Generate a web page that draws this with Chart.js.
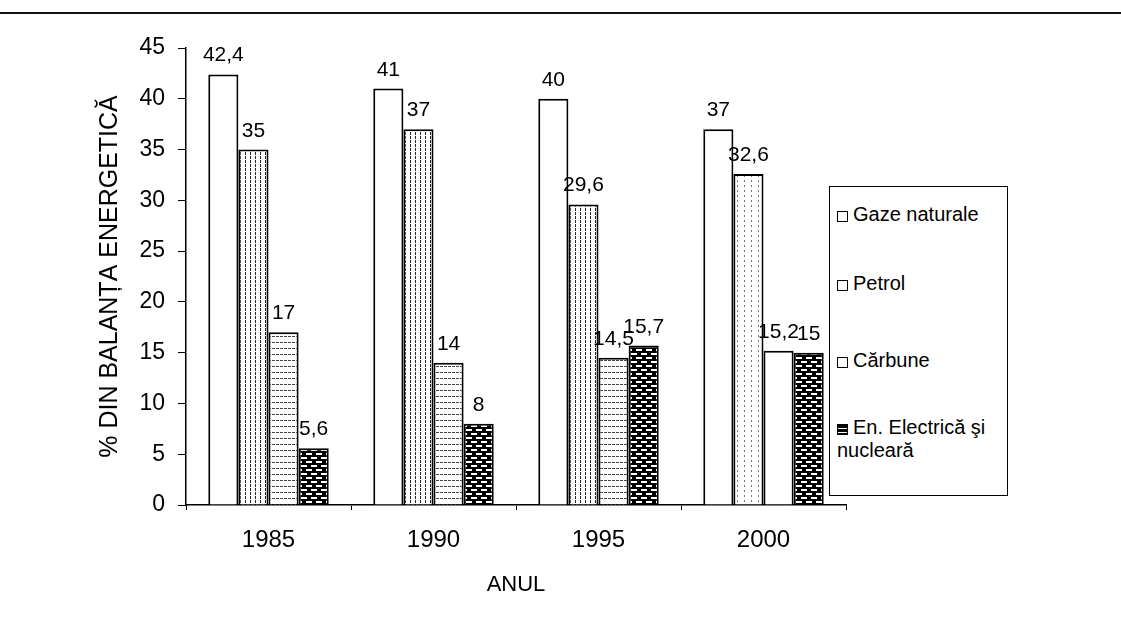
<!DOCTYPE html>
<html>
<head>
<meta charset="utf-8">
<script src="https://cdn.jsdelivr.net/npm/chart.js@4/dist/chart.umd.min.js"></script>
<style>
  body { margin: 0; background: #fff; }
  #wrap { position: relative; width: 1121px; height: 637px; font-family: "Liberation Sans", Arial, sans-serif; }
  #topline { position: absolute; left: 0; top: 12px; width: 1121px; height: 2px; background: #111; }
  #legend { position: absolute; left: 829px; top: 186px; width: 179px; height: 310px; border: 1.5px solid #000; background: #fff; box-sizing: border-box; }
  .item { position: absolute; left: 7px; font-size: 20px; color: #000; line-height: 23px; white-space: nowrap; }
  .sw { display: inline-block; width: 11px; height: 11px; border: 1.5px solid #000; margin-right: 5px; vertical-align: -1px; box-sizing: border-box; }
</style>
</head>
<body>
<div id="wrap">
  <canvas id="energyChart" width="1121" height="637"></canvas>
  <div id="topline"></div>
  <div id="legend"></div>
</div>
<script>
const years = ['1985', '1990', '1995', '2000'];
const seriesNames = ['Gaze naturale', 'Petrol', 'Cărbune', 'En. Electrică şi nucleară'];
const gazeNaturale = [42.4, 41, 40, 37];
const petrol = [35, 37, 29.6, 32.6];
const carbune = [17, 14, 14.5, 15.2];
const enElectrica = [5.6, 8, 15.7, 15];

// little pattern tiles for the bar fills
function makePattern(w, h, draw) {
    const c = document.createElement('canvas');
    c.width = w; c.height = h;
    const g = c.getContext('2d');
    g.fillStyle = '#fff';
    g.fillRect(0, 0, w, h);
    draw(g);
    return document.getElementById('energyChart').getContext('2d').createPattern(c, 'repeat');
}
const vertLines = makePattern(5, 4, g => { g.fillStyle = '#222'; g.fillRect(0, 0, 1, 3); });
const horizLines = makePattern(4, 6, g => { g.fillStyle = '#444'; g.fillRect(0, 0, 3, 1); });
const dots = makePattern(7, 5, g => { g.fillStyle = '#777'; g.fillRect(2, 0, 1, 2); });
const bricks = makePattern(10, 8, g => {
    g.fillStyle = '#000'; g.fillRect(0, 0, 10, 8);
    g.fillStyle = '#fff';
    g.fillRect(1, 1, 6, 2);
    g.fillRect(6, 5, 6, 2); g.fillRect(0, 5, 2, 2);
});

const fills = [
    ['#fff', '#fff', '#fff', '#fff'],
    [vertLines, vertLines, vertLines, dots],
    [horizLines, horizLines, horizLines, '#fff'],
    [bricks, bricks, bricks, bricks]
];
const values = [gazeNaturale, petrol, carbune, enElectrica];

// value labels above each bar, with comma decimals
const valueLabels = {
    id: 'valueLabels',
    afterDatasetsDraw(chart) {
        const ctx = chart.ctx;
        ctx.save();
        ctx.font = '21px "Liberation Sans", Arial, sans-serif';
        ctx.fillStyle = '#000';
        ctx.textAlign = 'center';
        ctx.textBaseline = 'alphabetic';
        chart.data.datasets.forEach((ds, i) => {
            chart.getDatasetMeta(i).data.forEach((bar, j) => {
                ctx.fillText(String(ds.data[j]).replace('.', ','), bar.x, bar.y - 13);
            });
        });
        ctx.restore();
    }
};

const energyChart = new Chart(document.getElementById('energyChart'), {
    type: 'bar',
    data: {
        labels: years,
        datasets: seriesNames.map((name, i) => ({
            label: name,
            data: values[i],
            backgroundColor: fills[i],
            borderColor: '#000',
            borderWidth: 2,
            barPercentage: 1,
            categoryPercentage: 0.73
        }))
    },
    options: {
        responsive: false,
        animation: false,
        layout: { padding: { left: 92, right: 275, top: 48, bottom: 0 } },
        scales: {
            x: {
                afterFit: scale => { scale.height = 132; },
                grid: { drawOnChartArea: false, tickLength: 5, color: '#000', offset: true },
                border: { color: '#000', width: 1.5 },
                ticks: { color: '#000', font: { size: 24, family: 'Liberation Sans' }, padding: 16 },
                title: {
                    display: true,
                    text: 'ANUL',
                    color: '#000',
                    font: { size: 22, family: 'Liberation Sans' },
                    padding: { top: 0, bottom: 39 }
                }
            },
            y: {
                min: 0,
                max: 45,
                afterFit: scale => { scale.width = 94; },
                grid: { drawOnChartArea: false, tickLength: 8, color: '#000' },
                border: { color: '#000', width: 1.5 },
                ticks: { stepSize: 5, color: '#000', font: { size: 23, family: 'Liberation Sans' }, padding: 13 },
                title: {
                    display: true,
                    text: '% DIN BALANȚA ENERGETICĂ',
                    color: '#000',
                    font: { size: 25, family: 'Liberation Sans' },
                    padding: { top: 3, bottom: 0 }
                }
            }
        },
        plugins: {
            legend: { display: false },
            tooltip: { enabled: false }
        }
    },
    plugins: [valueLabels]
});

// html legend built from the datasets, placed over the right edge of the plot
const legendTops = [16, 85, 162, 229];
const legend = document.getElementById('legend');
energyChart.data.datasets.forEach((ds, i) => {
    const item = document.createElement('div');
    item.className = 'item';
    item.style.top = legendTops[i] + 'px';
    const sw = document.createElement('span');
    sw.className = 'sw';
    if (i === 3) sw.style.background = 'repeating-linear-gradient(#000 0 3px, #fff 3px 4px)';
    item.appendChild(sw);
    const txt = i === 3 ? 'En. Electrică şi<br>nucleară' : ds.label;
    item.insertAdjacentHTML('beforeend', txt);
    legend.appendChild(item);
});
</script>
</body>
</html>
